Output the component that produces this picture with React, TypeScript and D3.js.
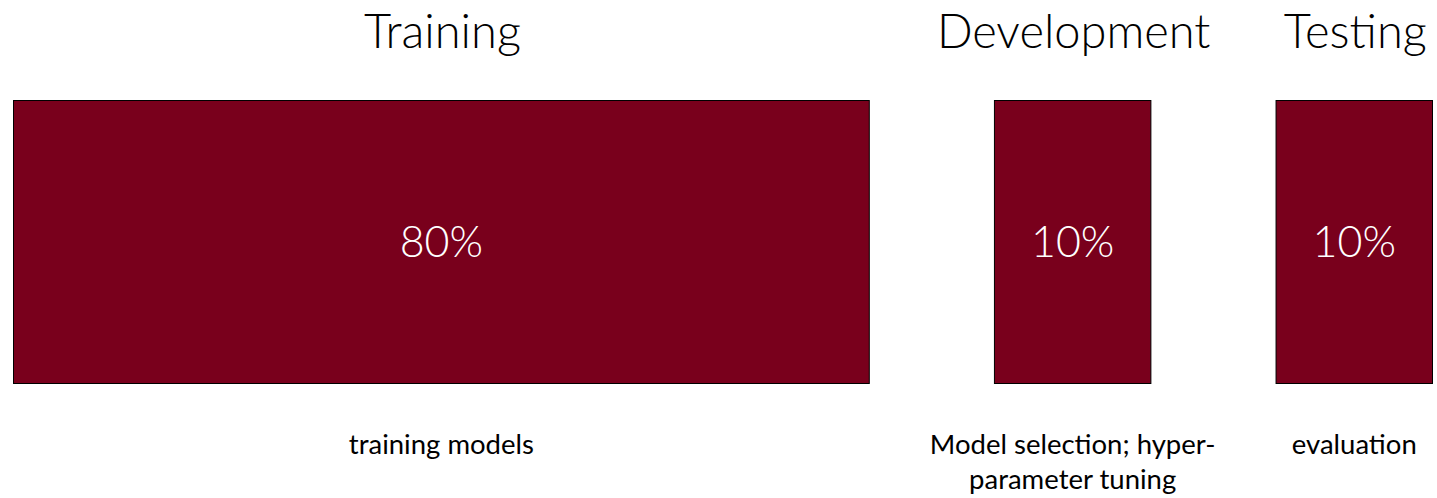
import React from "react";
import * as d3 from "d3";

const categories = ["Training", "Development", "Testing"];
const shares = [80, 10, 10];
const spans = [5.47, 1, 1];
const descriptions = [["training models"], ["Model selection; hyper-", "parameter tuning"], ["evaluation"]];

const W = 1437, H = 498;
const GAP = 0.8;

export default function App() {
  const starts: number[] = [];
  let acc = 0;
  spans.forEach((s, i) => { starts.push(acc); acc += s + (i < spans.length - 1 ? GAP : 0); });
  const x = d3.scaleLinear().domain([0, acc]).range([13.5, 1432.5]);
  const y = d3.scaleLinear().domain([0, 1]).range([383.5, 100.5]);
  const font = "Lato, 'Open Sans', sans-serif";
  return (
    <svg width={W} height={H} style={{ position: "absolute", left: 0, top: 0 }}>
      {categories.map((c, i) => {
        const x0 = x(starts[i]);
        const x1 = x(starts[i] + spans[i]);
        const cx = (x0 + x1) / 2;
        return (
          <g key={c}>
            <text x={cx + 1} y={48} textAnchor="middle" fontFamily={font} fontSize={47} fontWeight={300} fill="#000">{c}</text>
            <rect x={x0} y={y(1)} width={x1 - x0} height={y(0) - y(1)} fill="#79001C" stroke="#000" strokeWidth={1} />
            <text x={cx} y={257} textAnchor="middle" fontFamily={font} fontSize={43} fontWeight={300} fill="#fff">{shares[i]}%</text>
            {descriptions[i].map((t, j) => (
              <text key={j} x={cx} y={454 + j * 35} textAnchor="middle" fontFamily={font} fontSize={27.5} fontWeight={400} fill="#000">{t}</text>
            ))}
          </g>
        );
      })}
    </svg>
  );
}
